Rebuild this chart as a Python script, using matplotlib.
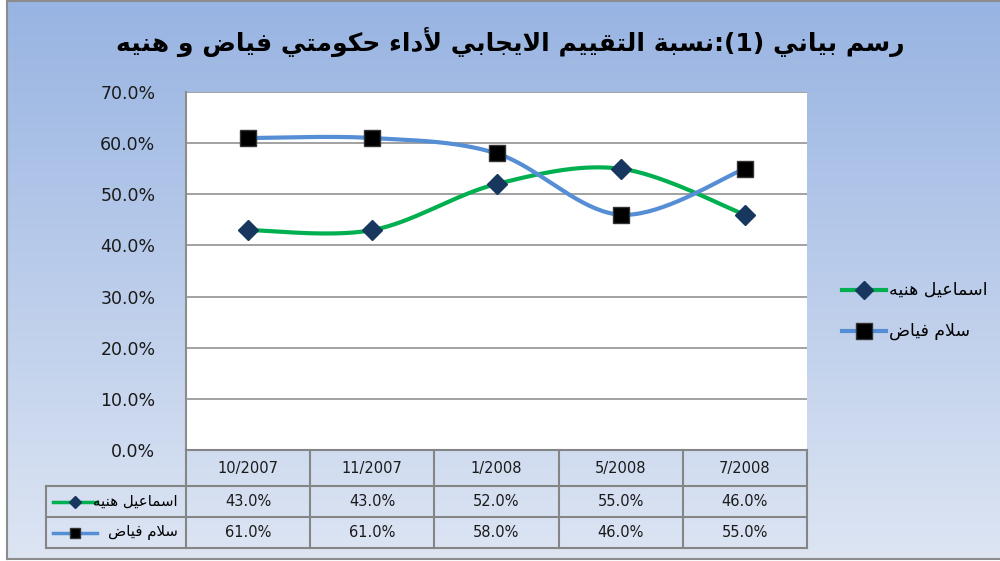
#!/usr/bin/env python3
"""
Grafico de lineas suavizadas con tabla de datos debajo (estilo Excel).
matplotlib no hace shaping ni bidi: los textos arabes se pasan a formas de
presentacion unidas y se ordenan visualmente (derecha a izquierda) a mano.
"""
import numpy as np
import matplotlib
matplotlib.use("Agg")
import matplotlib.pyplot as plt

# ---------------- datos ----------------
categories = ["10/2007", "11/2007", "1/2008", "5/2008", "7/2008"]
haniyeh = [43.0, 43.0, 52.0, 55.0, 46.0]
fayyad = [61.0, 61.0, 58.0, 46.0, 55.0]
series_names = ["اسماعيل هنيه", "سلام فياض"]
title = "رسم بياني (1):نسبة التقييم الايجابي لأداء حكومتي فياض و هنيه"
yticks = [0, 10, 20, 30, 40, 50, 60, 70]

# ---------------- shaping arabe minimo ----------------
# forma aislada; final=+1, inicial=+2, medial=+3
ISO = {"ء": 0xFE80, "أ": 0xFE83, "ا": 0xFE8D, "ب": 0xFE8F, "ة": 0xFE93, "ت": 0xFE95,
       "ج": 0xFE9D, "ح": 0xFEA1, "د": 0xFEA9, "ر": 0xFEAD, "س": 0xFEB1, "ض": 0xFEBD,
       "ع": 0xFEC9, "ف": 0xFED1, "ق": 0xFED5, "ك": 0xFED9, "ل": 0xFEDD, "م": 0xFEE1,
       "ن": 0xFEE5, "ه": 0xFEE9, "و": 0xFEED, "ي": 0xFEF1}
DUAL = set("بتجحسضعفقكلمنهي")
RIGHT = set("أادرةو")
LAMALEF = {"ا": 0xFEFB, "أ": 0xFEF7}
MIRROR = {"(": ")", ")": "("}


def shape(w):
    out = []
    i = 0
    n = len(w)
    while i < n:
        c = w[i]
        if c not in ISO:
            out.append(c)
            i += 1
            continue
        prev = w[i - 1] if i > 0 else ""
        jp = prev in DUAL and (c in DUAL or c in RIGHT)
        if c == "ل" and i + 1 < n and w[i + 1] in LAMALEF:
            out.append(chr(LAMALEF[w[i + 1]] + (1 if jp else 0)))
            i += 2
            continue
        nxt = w[i + 1] if i + 1 < n else ""
        jn = c in DUAL and (nxt in DUAL or nxt in RIGHT)
        base = ISO[c]
        if jp and jn:
            out.append(chr(base + 3))
        elif jp:
            out.append(chr(base + 1))
        elif jn:
            out.append(chr(base + 2))
        else:
            out.append(chr(base))
        i += 1
    return out


def visual(text):
    """Parrafo RTL: se invierte todo, se reflejan parentesis y se re-invierten los numeros."""
    rev = [MIRROR.get(c, c) for c in reversed(shape(text))]
    out, run = [], []
    for c in rev:
        if c.isdigit():
            run.append(c)
        else:
            out.extend(reversed(run))
            run = []
            out.append(c)
    out.extend(reversed(run))
    return "".join(out)


def smooth(xs, ys, steps=40):
    """Curva suavizada tipo Excel (Bezier con tangentes Catmull-Rom)."""
    p = np.column_stack([xs, ys]).astype(float)
    p = np.vstack([p[0], p, p[-1]])
    t = np.linspace(0, 1, steps)[:, None]
    pts = []
    for k in range(1, len(p) - 2):
        p0, p1, p2, p3 = p[k - 1], p[k], p[k + 1], p[k + 2]
        c1 = p1 + (p2 - p0) / 6.0
        c2 = p2 - (p3 - p1) / 6.0
        seg = (1 - t) ** 3 * p1 + 3 * (1 - t) ** 2 * t * c1 + 3 * (1 - t) * t ** 2 * c2 + t ** 3 * p2
        pts.append(seg)
    pts = np.vstack(pts)
    return pts[:, 0], pts[:, 1]


plt.rcParams["font.family"] = ["DejaVu Sans"]

W, H = 1000, 561
fig = plt.figure(figsize=(W / 100, H / 100), dpi=100)
fig.patch.set_facecolor("white")


def fx(px):
    return px / W


def fy(py):
    return 1 - py / H


# fondo degradado con borde gris
bg = fig.add_axes([fx(7), fy(559), fx(1000) - fx(7), fy(1) - fy(559)], zorder=0)
top = np.array([0x98, 0xB4, 0xE2]) / 255
bot = np.array([0xDD, 0xE5, 0xF3]) / 255
g = np.linspace(0, 1, 256)[:, None]
grad = top[None, :] * (1 - g) + bot[None, :] * g
bg.imshow(grad[:, None, :], aspect="auto", extent=[0, 1, 0, 1])
bg.set_xlim(0, 1)
bg.set_ylim(0, 1)
bg.set_xticks([])
bg.set_yticks([])
for s in bg.spines.values():
    s.set_edgecolor("#8c8c8c")
    s.set_linewidth(1.5)
bg.spines["right"].set_visible(False)

# titulo
fig.text(fx(510), fy(42), visual(title), ha="center", va="center",
         fontsize=18, fontweight="bold", color="black", zorder=5)

# area del grafico
L, R, T, B = 186, 807, 92, 450
ax = fig.add_axes([fx(L), fy(B), fx(R) - fx(L), fy(T) - fy(B)], zorder=2)
ax.set_facecolor("white")
ax.set_xlim(0, len(categories))
ax.set_ylim(0, 70)
ax.set_yticks(yticks)
ax.set_yticklabels([f"{v:.1f}%" for v in yticks], fontsize=12.5, color="#1a1a1a")
ax.set_xticks([])
ax.tick_params(axis="y", length=0, pad=22)
ax.grid(axis="y", color="#9a9a9a", linewidth=1.3)
ax.set_axisbelow(True)
for s in ["top", "right", "bottom"]:
    ax.spines[s].set_visible(False)
ax.spines["left"].set_color("#8c8c8c")
ax.spines["left"].set_linewidth(1.5)

xs = np.arange(len(categories)) + 0.5
styles = [
    dict(color="#00b050", marker="D", mfc="#17375e", mec="#17375e", ms=10),
    dict(color="#558ed5", marker="s", mfc="black", mec="#333333", ms=11.5),
]
for vals, st in zip([haniyeh, fayyad], styles):
    sx, sy = smooth(xs, vals)
    ax.plot(sx, sy, color=st["color"], linewidth=3, solid_capstyle="round", zorder=3)
    ax.plot(xs, vals, linestyle="none", marker=st["marker"], markerfacecolor=st["mfc"],
            markeredgecolor=st["mec"], markersize=st["ms"], zorder=4)

# tabla de datos (coordenadas en pixeles)
tab = fig.add_axes([0, 0, 1, 1], zorder=3)
tab.set_xlim(0, W)
tab.set_ylim(H, 0)
tab.axis("off")
col_edges = np.linspace(L, R, len(categories) + 1)
row_edges = [450, 486, 517, 548]
lab_left = 46
gray = "#858585"
lw = 1.5
tab.plot([L, R], [row_edges[0]] * 2, color=gray, lw=lw)
for ry in row_edges[1:]:
    tab.plot([lab_left, R], [ry, ry], color=gray, lw=lw)
for cx in col_edges:
    tab.plot([cx, cx], [row_edges[0], row_edges[-1]], color=gray, lw=lw)
tab.plot([lab_left, lab_left], [row_edges[1], row_edges[-1]], color=gray, lw=lw)

for i, cat in enumerate(categories):
    cx = (col_edges[i] + col_edges[i + 1]) / 2
    tab.text(cx, (row_edges[0] + row_edges[1]) / 2, cat, ha="center", va="center",
             fontsize=10.5, color="#1a1a1a")
    for r, vals in enumerate([haniyeh, fayyad]):
        tab.text(cx, (row_edges[r + 1] + row_edges[r + 2]) / 2, f"{vals[i]:.1f}%",
                 ha="center", va="center", fontsize=10.5, color="#1a1a1a")

for r, (name, st) in enumerate(zip(series_names, styles)):
    cy = (row_edges[r + 1] + row_edges[r + 2]) / 2
    tab.plot([53, 97], [cy, cy], color=st["color"], lw=2.5)
    tab.plot([75], [cy], marker=st["marker"], mfc=st["mfc"], mec=st["mec"],
             ms=st["ms"] * 0.65, linestyle="none")
    tab.text(178, cy, visual(name), ha="right", va="center", fontsize=10.8, color="black")

# leyenda a la derecha
for r, (name, st) in enumerate(zip(series_names, styles)):
    cy = 290 + r * 41
    tab.plot([842, 886], [cy, cy], color=st["color"], lw=3)
    tab.plot([864], [cy], marker=st["marker"], mfc=st["mfc"], mec=st["mec"],
             ms=st["ms"] * 0.95, linestyle="none")
    tab.text(889, cy, visual(name), ha="left", va="center", fontsize=12.5, color="black")

fig.savefig("out.png", dpi=100)
